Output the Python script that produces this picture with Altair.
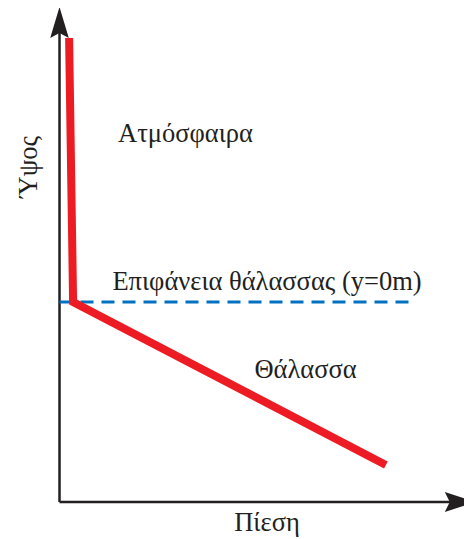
import altair as alt
import pandas as pd

# Data (arbitrary units): pressure vs height, sea surface at height 0
pressure = [2.4, 3.4, 81.6]
height = [132, 0, -81.5]
sea_x = [0, 87.6]
sea_y = [0, 0]

# axis extents (data units)
x_axis_start, x_axis_end = 0, 101
y_axis_start, y_axis_end = -100, 138

x_scale = alt.Scale(domain=[0, 100], range=[51.5, 451.5], nice=False, zero=False)
y_scale = alt.Scale(domain=[-100, 145], range=[494, 4], nice=False, zero=False)

INK = "#231f20"
FONT = "Liberation Serif"
FS = 26.5

def X(f):
    return alt.X(f, type="quantitative", scale=x_scale, axis=None)

def Y(f):
    return alt.Y(f, type="quantitative", scale=y_scale, axis=None)

profile = pd.DataFrame({"p": pressure, "h": height, "o": list(range(len(pressure)))})
sea = pd.DataFrame({"p": sea_x, "h": sea_y})
yaxis = pd.DataFrame({"p": [0], "h": [y_axis_start], "h2": [y_axis_end]})
xaxis = pd.DataFrame({"p": [x_axis_start], "p2": [x_axis_end - 1], "h": [-100]})
yhead = pd.DataFrame({"p": [0], "h": [139.75]})
xhead = pd.DataFrame({"p": [100.2], "h": [-100]})

y_rule = alt.Chart(yaxis).mark_rule(color=INK, strokeWidth=2.5).encode(
    x=X("p"), y=Y("h"), y2="h2")
x_rule = alt.Chart(xaxis).mark_rule(color=INK, strokeWidth=2.5).encode(
    x=X("p"), x2="p2", y=Y("h"))

y_arrow = alt.Chart(yhead).mark_point(
    shape="M0,-1L0.6,1L0,0.68L-0.6,1Z", size=961, filled=True, color=INK, opacity=1, strokeWidth=0
).encode(x=X("p"), y=Y("h"))
x_arrow = alt.Chart(xhead).mark_point(
    shape="M1,0L-1,0.64L-0.68,0L-1,-0.64Z", size=961, filled=True, color=INK, opacity=1, strokeWidth=0
).encode(x=X("p"), y=Y("h"))

sea_line = alt.Chart(sea).mark_line(color="#0070c0", strokeWidth=3, strokeDash=[13, 8]).encode(
    x=X("p"), y=Y("h"))

red = alt.Chart(profile).mark_line(
    color="#ed1c24", strokeWidth=8, strokeCap="butt", strokeJoin="miter"
).encode(x=X("p"), y=Y("h"), order="o:Q")

def label(txt, x, y, angle=0):
    return alt.Chart(pd.DataFrame({"t": [txt]})).mark_text(
        font=FONT, fontSize=FS, color=INK, align="center", baseline="alphabetic", angle=angle
    ).encode(text="t:N", x=alt.value(x), y=alt.value(y))

texts = [
    label("Ατμόσφαιρα", 177.5, 134),
    label("Επιφάνεια θάλασσας (y=0m)", 259, 282),
    label("Θάλασσα", 297.5, 370),
    label("Πίεση", 259, 523),
    label("Ύψος", 29, 159, angle=270),
]

chart = alt.layer(y_rule, x_rule, sea_line, red, y_arrow, x_arrow, *texts).properties(
    width=456, height=531, autosize=alt.AutoSizeParams(type="none"), padding=0
).configure_view(stroke=None)

chart.save("out.html", embed_options={"renderer": "svg", "actions": False})
